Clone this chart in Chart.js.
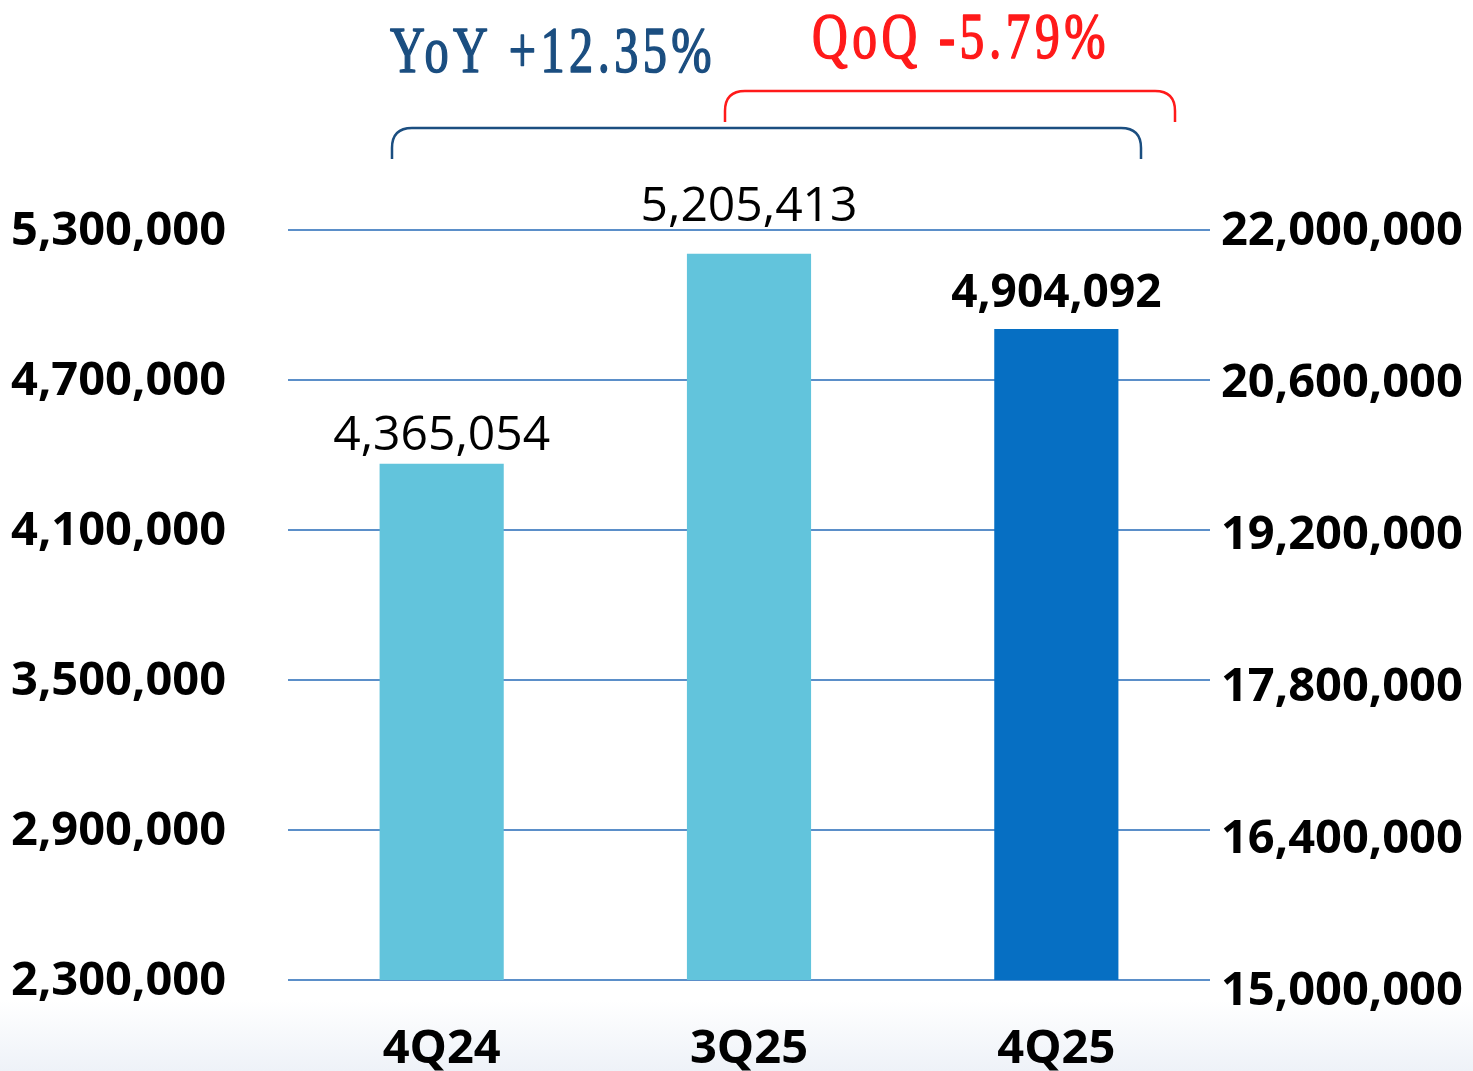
<!DOCTYPE html>
<html>
<head>
<meta charset="utf-8">
<script src="https://cdn.jsdelivr.net/npm/chart.js@4.4.1/dist/chart.umd.min.js"></script>
<style>
html,body{margin:0;padding:0;width:1473px;height:1071px;overflow:hidden;
background:linear-gradient(to bottom,#ffffff 0px,#ffffff 1000px,#eef2f8 1071px);}
#wrap{position:absolute;left:0;top:0;width:1473px;height:1071px;}
</style>
</head>
<body>
<div id="wrap"><canvas id="c" width="1473" height="1071"></canvas></div>
<script>
const categories = ['4Q24', '3Q25', '4Q25'];
const values = [4365054, 5205413, 4904092];
const barColors = ['#62c4dc', '#62c4dc', '#066fc3'];
const leftTicks = [2300000, 2900000, 3500000, 4100000, 4700000, 5300000];
const rightTicks = [15000000, 16400000, 17800000, 19200000, 20600000, 22000000];
const yoyText = 'YoY +12.35%';
const qoqText = 'QoQ -5.79%';

const fmt = v => Number(v).toLocaleString('en-US');
const TICK_FONT = {family: "'Open Sans', sans-serif", size: 47, weight: 'bold'};

const labelPlugin = {
  id: 'barLabels',
  afterDatasetsDraw(chart, args, opts) {
    const ctx = chart.ctx;
    const meta = chart.getDatasetMeta(0);
    ctx.save();
    ctx.textAlign = 'center';
    ctx.textBaseline = 'middle';
    ctx.fillStyle = '#000';
    meta.data.forEach((bar, i) => {
      const bold = i === 2;
      ctx.font = (bold ? 'bold 46px' : '48px') + " 'Open Sans', sans-serif";
      ctx.fillText(fmt(values[i]), bar.x, bar.y - opts.offsets[i]);
    });
    ctx.restore();
  }
};

const bracketPlugin = {
  id: 'brackets',
  afterDraw(chart) {
    const ctx = chart.ctx;
    function bracket(x1, x2, yTop, yBot, color, r) {
      ctx.save();
      ctx.strokeStyle = color;
      ctx.lineWidth = 2.5;
      ctx.beginPath();
      ctx.moveTo(x1, yBot);
      ctx.lineTo(x1, yTop + r);
      ctx.quadraticCurveTo(x1, yTop, x1 + r, yTop);
      ctx.lineTo(x2 - r, yTop);
      ctx.quadraticCurveTo(x2, yTop, x2, yTop + r);
      ctx.lineTo(x2, yBot);
      ctx.stroke();
      ctx.restore();
    }
    bracket(392, 1141, 128, 159, '#1b4e80', 20);
    bracket(725, 1175, 91, 122, '#ff1a1a', 20);
    function label(text, cx, baseline, color, targetW) {
      ctx.save();
      ctx.font = "66px 'Liberation Serif', serif";
      ctx.letterSpacing = '6px';
      ctx.fillStyle = color;
      ctx.strokeStyle = color;
      ctx.lineWidth = 1.6;
      ctx.lineJoin = 'round';
      ctx.textBaseline = 'alphabetic';
      const w = ctx.measureText(text).width;
      const sx = targetW / w;
      ctx.translate(cx - targetW / 2, baseline);
      ctx.scale(sx, 1);
      ctx.fillText(text, 0, 0);
      ctx.strokeText(text, 0, 0);
      ctx.restore();
    }
    label(yoyText, 553, 72, '#1b4e80', 326);
    label(qoqText, 961, 58, '#ff1a1a', 298);
  }
};

new Chart(document.getElementById('c'), {
  type: 'bar',
  data: {
    labels: categories,
    datasets: [{
      data: values,
      backgroundColor: barColors,
      borderWidth: 0,
      categoryPercentage: 1,
      barPercentage: 0.404,
      yAxisID: 'y'
    }]
  },
  options: {
    responsive: false,
    animation: false,
    layout: {padding: {top: 230, left: 0, right: 0, bottom: 0}},
    plugins: {
      legend: {display: false},
      tooltip: {enabled: false},
      barLabels: {offsets: [27, 46, 35]}
    },
    scales: {
      x: {
        grid: {display: false, drawTicks: false},
        border: {display: false},
        ticks: {color: '#000', font: TICK_FONT, padding: 41},
        afterFit(s) { s.height = 91; }
      },
      y: {
        position: 'left',
        min: 2300000, max: 5300000,
        afterBuildTicks(s) { s.ticks = leftTicks.map(v => ({value: v})); },
        grid: {color: '#5b8fc9', lineWidth: 2, drawTicks: false},
        border: {display: false},
        ticks: {color: '#000', font: TICK_FONT, padding: 62, labelOffset: 2, callback: v => fmt(v)},
        afterFit(s) { s.width = 288; }
      },
      y2: {
        position: 'right',
        min: 15092105, max: 22000000,
        afterBuildTicks(s) { s.ticks = rightTicks.map(v => ({value: v})); },
        grid: {display: false, drawTicks: false},
        border: {display: false},
        ticks: {color: '#000', font: TICK_FONT, padding: 11, labelOffset: 2, callback: v => fmt(v)},
        afterFit(s) { s.width = 263; }
      }
    }
  },
  plugins: [labelPlugin, bracketPlugin]
});
</script>
</body>
</html>
